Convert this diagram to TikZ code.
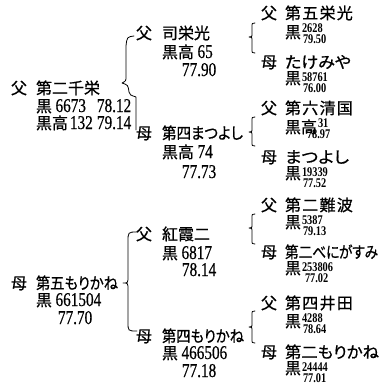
\documentclass[tikz,border=0pt]{standalone}
\usepackage{fontspec}
\newfontfamily\jp[RawFeature=+palt, FakeBold=0.8]{Noto Sans CJK JP}
\newfontfamily\jpw[LetterSpace=8, FakeBold=0.8]{Noto Sans CJK JP}
\newfontfamily\numf[FakeStretch=0.78, FakeBold=0.6]{Liberation Serif}
\newfontfamily\numfb{Liberation Serif}[FakeStretch=0.78, UprightFont={* Bold}]
\newcommand\bignum[1]{{\numf\fontsize{19.5}{19.5}\selectfont #1}}
\newcommand\smallnum[1]{\scalebox{0.68}[0.68]{\numfb\fontsize{19.5}{19.5}\selectfont #1}}
\newcommand\fitw[2]{\resizebox{#1}{\height}{#2}}
\newcommand\pbrace[6]{% end x, spine x, tip x, top y, mid y, bottom y
  \draw[brace] (#1,#4) .. controls (#2,#4) .. (#2,{#4+4}) -- (#2,{#5-4})
    .. controls (#2,#5) .. (#3,#5) .. controls (#2,#5) .. (#2,{#5+4})
    -- (#2,{#6-4}) .. controls (#2,#6) .. (#1,#6);}
\begin{document}
\begin{tikzpicture}[x=1pt,y=-1pt,
  t/.style={inner sep=0pt, outer sep=0pt, anchor=base west, font={\jp\fontsize{16}{16}\selectfont}},
  brace/.style={line width=0.8pt, line cap=round, line join=round}]
\useasboundingbox (0,0) rectangle (391,391);
% ---------- column 1 ----------
\node[t] (a1) at (11,94) {父};
\node[t] (a1n) at (36,94) {第二千栄};
\node[t] (a1k) at (36,112) {黒 \bignum{6673}};
\node[t] (a1v) at (97,112) {\bignum{78.12}};
\node[t] (a1h) at (36,129) {黒高\hspace{2pt}\bignum{132}};
\node[t] (a1w) at (97,129) {\bignum{79.14}};
\node[t] (a2) at (11,289) {母};
\node[t] (a2n) at (36,289) {\fitw{82pt}{第五もりかね}};
\node[t] (a2k) at (36,306) {黒 \bignum{661504}};
\node[t] (a2v) at (58,324) {\bignum{77.70}};
% ---------- column 2 ----------
\node[t] (b1) at (136,39) {父};
\node[t] (b1n) at (162,39) {司栄光};
\node[t] (b1k) at (162,58) {黒高 \bignum{65}};
\node[t] (b1v) at (182,76) {\bignum{77.90}};
\node[t] (b2) at (136,139) {母};
\node[t] (b2n) at (162,139) {\fitw{81pt}{第四まつよし}};
\node[t] (b2k) at (162,158) {黒高 \bignum{74}};
\node[t] (b2v) at (182,178) {\bignum{77.73}};
\node[t] (b3) at (136,240) {父};
\node[t] (b3n) at (162,240) {紅霞二};
\node[t] (b3k) at (162,259) {黒 \bignum{6817}};
\node[t] (b3v) at (182,276) {\bignum{78.14}};
\node[t] (b4) at (136,342) {母};
\node[t] (b4n) at (162,342) {\fitw{82pt}{第四もりかね}};
\node[t] (b4k) at (162,359) {黒 \bignum{466506}};
\node[t] (b4v) at (182,377) {\bignum{77.18}};
% ---------- column 3 ----------
\node[t] (c1) at (261,19) {父};
\node[t] (c1n) at (285,19) {\jpw 第五栄光};
\node[t] (c1k) at (285,38) {黒};
\node[t] (c1a) at (302,32) {\smallnum{2628}};
\node[t] (c1b) at (303,43) {\smallnum{79.50}};
\node[t] (c2) at (261,68) {母};
\node[t] (c2n) at (285,68) {\fitw{66pt}{たけみや}};
\node[t] (c2k) at (285,84) {黒};
\node[t] (c2a) at (302,81) {\smallnum{58761}};
\node[t] (c2b) at (303,92) {\smallnum{76.00}};
\node[t] (c3) at (261,114) {父};
\node[t] (c3n) at (285,114) {\jpw 第六清国};
\node[t] (c3k) at (285,133) {黒高};
\node[t] (c3a) at (318,127) {\smallnum{31}};
\node[t] (c3b) at (307,138) {\smallnum{78.97}};
\node[t] (c4) at (261,163) {母};
\node[t] (c4n) at (285,163) {\fitw{64pt}{まつよし}};
\node[t] (c4k) at (285,179) {黒};
\node[t] (c4a) at (302,176) {\smallnum{19339}};
\node[t] (c4b) at (303,187) {\smallnum{77.52}};
\node[t] (c5) at (261,211) {父};
\node[t] (c5n) at (285,211) {\jpw 第二難波};
\node[t] (c5k) at (285,228) {黒};
\node[t] (c5a) at (302,224) {\smallnum{5387}};
\node[t] (c5b) at (303,235) {\smallnum{79.13}};
\node[t] (c6) at (261,258) {母};
\node[t] (c6n) at (285,258) {\fitw{93pt}{第二べにがすみ}};
\node[t] (c6k) at (285,274) {黒};
\node[t] (c6a) at (302,271) {\smallnum{253806}};
\node[t] (c6b) at (305,282) {\smallnum{77.02}};
\node[t] (c7) at (261,309) {父};
\node[t] (c7n) at (285,309) {\jpw 第四井田};
\node[t] (c7k) at (285,327) {黒};
\node[t] (c7a) at (302,322) {\smallnum{4288}};
\node[t] (c7b) at (303,333) {\smallnum{78.64}};
\node[t] (c8) at (261,358) {母};
\node[t] (c8n) at (285,358) {\fitw{94pt}{第二もりかね}};
\node[t] (c8k) at (285,374) {黒};
\node[t] (c8a) at (302,371) {\smallnum{24444}};
\node[t] (c8b) at (303,382) {\smallnum{77.01}};
% ---------- braces ----------
\draw[brace] (134,36) .. controls (127,37) .. (126,46) -- (126,76)
  .. controls (126,81) .. (122,83) .. controls (128,85) .. (129,92)
  .. controls (130,95) .. (136,97) -- (136,130);
\draw[brace] (137,232) .. controls (128,232) .. (128,242) -- (128,276)
  .. controls (128,283) .. (123,283) .. controls (128,283) .. (128,290)
  -- (128,322) .. controls (128,331) .. (137,331);
\pbrace{255}{252}{249}{23}{37}{53}
\pbrace{255}{252}{249}{117}{132}{146}
\pbrace{255}{252}{249}{214}{228}{244}
\pbrace{255}{252}{249}{311}{327}{343}
\end{tikzpicture}
\end{document}
